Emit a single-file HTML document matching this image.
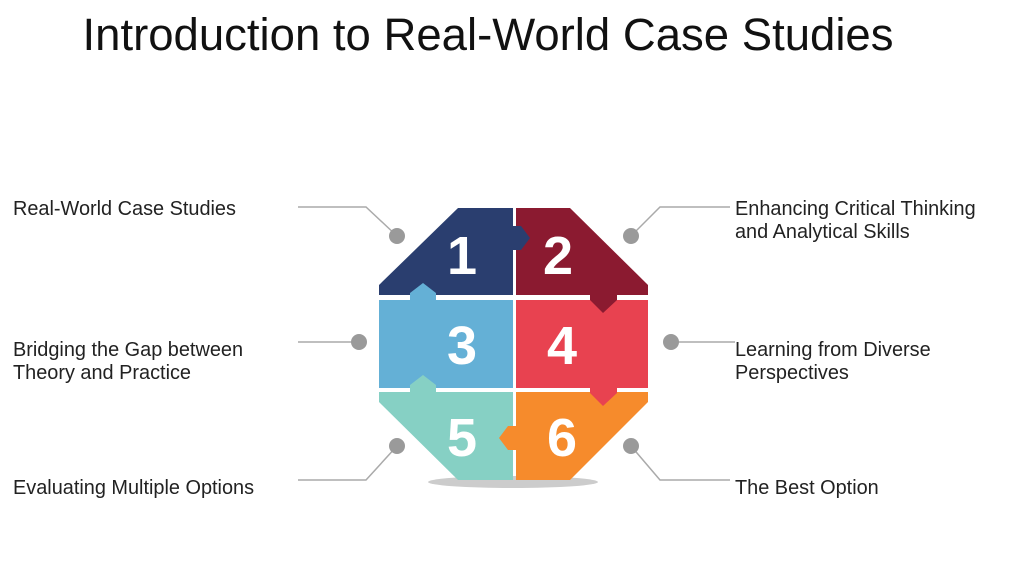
<!DOCTYPE html>
<html><head><style>
body{margin:0;background:#fff;width:1024px;height:583px;overflow:hidden;font-family:"Liberation Sans",sans-serif;}
</style></head><body>
<svg width="1024" height="583" xmlns="http://www.w3.org/2000/svg" font-family="Liberation Sans, sans-serif">
<text x="488" y="50" font-size="45.5" text-anchor="middle" fill="#111">Introduction to Real-World Case Studies</text>
<g font-size="19.9" fill="#222">
<text x="13" y="215">Real-World Case Studies</text>
<text x="13" y="356">Bridging the Gap between</text>
<text x="13" y="379">Theory and Practice</text>
<text x="13" y="494">Evaluating Multiple Options</text>
<text x="735" y="215">Enhancing Critical Thinking</text>
<text x="735" y="238">and Analytical Skills</text>
<text x="735" y="356">Learning from Diverse</text>
<text x="735" y="379">Perspectives</text>
<text x="735" y="494">The Best Option</text>
</g>
<g stroke="#aaa" stroke-width="1.5" fill="none">
<polyline points="298,207 366,207 397,236"/>
<polyline points="298,342 359,342"/>
<polyline points="298,480 366,480 397,446"/>
<polyline points="730,207 660,207 631,236"/>
<polyline points="735,342 671,342"/>
<polyline points="730,480 660,480 631,446"/>
</g>
<g fill="#9a9a9a">
<circle cx="397" cy="236" r="8"/><circle cx="359" cy="342" r="8"/><circle cx="397" cy="446" r="8"/>
<circle cx="631" cy="236" r="8"/><circle cx="671" cy="342" r="8"/><circle cx="631" cy="446" r="8"/>
</g>
<ellipse cx="513" cy="482" rx="85" ry="6" fill="#ccc"/>
<polygon points="458,208 513,208 513,295 379,295 379,285" fill="#2a3e6f"/>
<polygon points="516,208 570,208 648,285 648,295 516,295" fill="#8b1a30"/>
<polygon points="379,300 513,300 513,388 379,388" fill="#64b0d6"/>
<polygon points="516,300 648,300 648,388 516,388" fill="#e84250"/>
<polygon points="379,392 513,392 513,480 458,480 379,402" fill="#86d0c4"/>
<polygon points="516,392 648,392 648,402 570,480 516,480" fill="#f68b2c"/>
<polygon points="510,226 521,226 530,238 521,250 510,250" fill="#2a3e6f"/>
<polygon points="590,292 617,292 617,300 603,313 590,300" fill="#8b1a30"/>
<polygon points="410,303 410,293 423,283 436,293 436,303" fill="#64b0d6"/>
<polygon points="590,385 617,385 617,393 603,406 590,393" fill="#e84250"/>
<polygon points="410,395 410,385 423,375 436,385 436,395" fill="#86d0c4"/>
<polygon points="519,426 508,426 499,438 508,450 519,450" fill="#f68b2c"/>
<g font-size="54" font-weight="bold" fill="#fff" text-anchor="middle">
<text x="462" y="274">1</text><text x="558" y="274">2</text>
<text x="462" y="364">3</text><text x="562" y="364">4</text>
<text x="462" y="456">5</text><text x="562" y="456">6</text>
</g>
</svg>
</body></html>
